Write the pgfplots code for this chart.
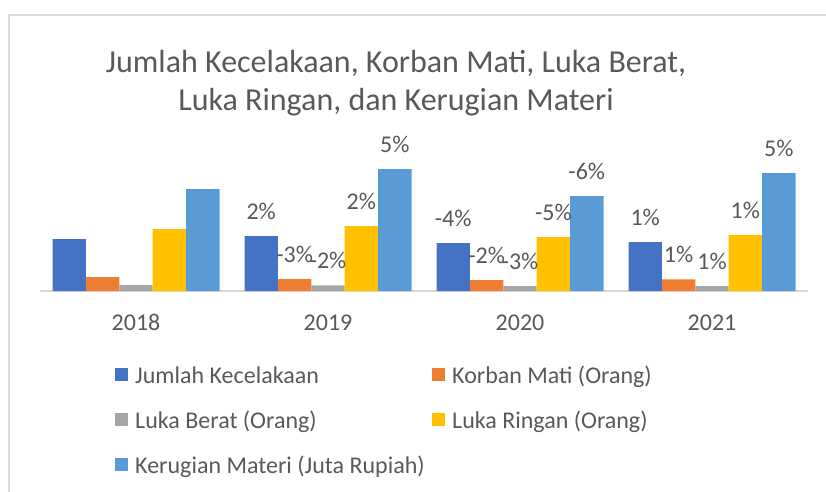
\documentclass[border=0pt]{standalone}
\usepackage{fontspec}
\setmainfont{Carlito}
\usepackage{pgfplots}
\pgfplotsset{compat=1.18}
\definecolor{cBlue}{HTML}{4472C4}
\definecolor{cOrange}{HTML}{ED7D31}
\definecolor{cGray}{HTML}{A5A5A5}
\definecolor{cYellow}{HTML}{FFC000}
\definecolor{cLight}{HTML}{5B9BD5}
\definecolor{txt}{HTML}{595959}
\definecolor{frameC}{HTML}{D9D9D9}
\newcommand{\lblfont}{\fontsize{24bp}{28bp}\selectfont}
\begin{document}
\begin{tikzpicture}
\path[use as bounding box] (0,0) rectangle (826bp,-492bp);
\fill[white] (0,0) rectangle (826bp,-492bp);
\draw[frameC, line width=1.5bp] (9bp,-492bp) -- (9bp,-15bp) -- (826bp,-15bp);
\node[anchor=base, text=txt, font=\fontsize{32bp}{38bp}\selectfont, inner sep=0pt] at (396bp,-72bp) {Jumlah Kecelakaan, Korban Mati, Luka Berat,};
\node[anchor=base, text=txt, font=\fontsize{32bp}{38bp}\selectfont, inner sep=0pt] at (396bp,-110bp) {Luka Ringan, dan Kerugian Materi};
\begin{axis}[
  at={(40bp,-291bp)}, anchor=south west,
  scale only axis, width=768bp, height=130bp,
  xmin=-0.5, xmax=3.5, ymin=0, ymax=130,
  ybar=0pt, bar width=33.4bp,
  axis y line=none,
  axis x line=bottom,
  axis line style={-, draw=frameC, line width=1.2bp},
  xtick={0,1,2,3}, xticklabels={2018,2019,2020,2021},
  major tick length=0pt,
  xticklabel style={anchor=base, yshift=-39bp, text=txt, font=\lblfont},
  /pgf/number format/assume math mode=true,
  clip=false,
  nodes near coords, point meta=explicit symbolic,
  every node near coord/.append style={anchor=base, yshift=17bp, inner sep=0pt, text=txt, font=\lblfont},
  legend columns=2,
  legend cell align=left,
  legend style={draw=none, fill=none, at={(0.0977,-0.5846)}, anchor=north west,
    font=\lblfont, text=txt, inner sep=0pt, row sep=24bp,
    nodes={inner sep=0pt, text height=16bp, text depth=5bp},
    /tikz/every odd column/.append style={column sep=7bp}},
  legend image code/.code={\fill[#1] (0bp,-3bp) rectangle (13bp,10bp);},
]
\addplot[fill=cBlue, draw=none] coordinates {(0,52) [{}] (1,55) [2\%] (2,48) [-4\%] (3,49) [1\%]};
\addlegendentry{\makebox[297bp][l]{Jumlah Kecelakaan}}
\addplot[fill=cOrange, draw=none] coordinates {(0,14) [{}] (1,12) [-3\%] (2,11) [-2\%] (3,11.7) [1\%]};
\addlegendentry{Korban Mati (Orang)}
\addplot[fill=cGray, draw=none] coordinates {(0,6) [{}] (1,5.7) [-2\%] (2,5) [-3\%] (3,5) [1\%]};
\addlegendentry{\makebox[297bp][l]{Luka Berat (Orang)}}
\addplot[fill=cYellow, draw=none] coordinates {(0,62) [{}] (1,65) [2\%] (2,54) [-5\%] (3,56) [1\%]};
\addlegendentry{Luka Ringan (Orang)}
\addplot[fill=cLight, draw=none] coordinates {(0,102) [{}] (1,122) [5\%] (2,95) [-6\%] (3,118) [5\%]};
\addlegendentry{\makebox[297bp][l]{Kerugian Materi (Juta Rupiah)}}
\end{axis}
\end{tikzpicture}
\end{document}
